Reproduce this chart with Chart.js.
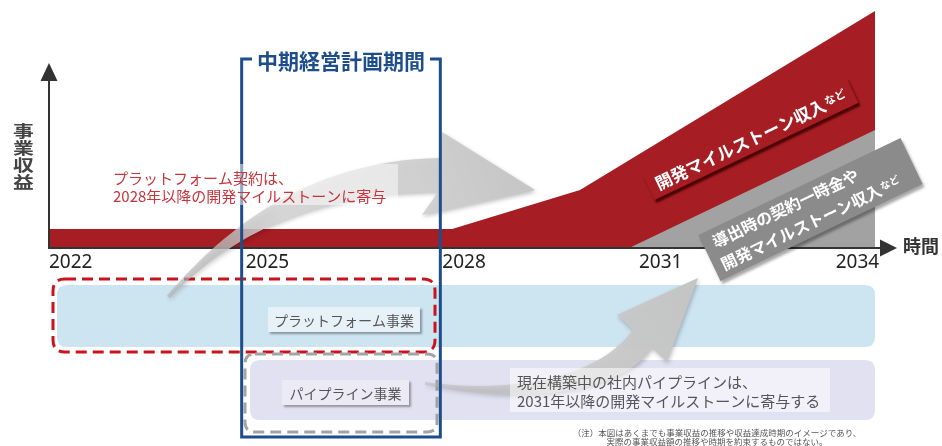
<!DOCTYPE html>
<html lang="ja">
<head>
<meta charset="UTF-8">
<title>事業収益の推移イメージ</title>
<script src="https://cdn.jsdelivr.net/npm/chart.js"></script>
<style>
  html, body { margin: 0; padding: 0; background: #fff; }
  #wrap { width: 942px; height: 446px; }
</style>
</head>
<body>
<div id="wrap"><canvas id="chart" width="942" height="446"></canvas></div>
<script>
  // data (values are an index, top of plot = 100)
  const tickYears = [2022, 2025, 2028, 2031, 2034];
  const redYears = [2022, 2028.15, 2030.1, 2034.6];
  const redValues = [8, 8, 24.5, 100];
  const greyYears = [2030.85, 2034.6];
  const greyValues = [0, 49.8];
  const planYears = [2025, 2028];

  const JP = '"Noto Sans CJK JP", "Noto Sans", sans-serif';
  const RED = '#a61d23';
  const BLUE = '#1d4e8b';

  function toPoints(xs, ys) {
    return xs.map((x, i) => ({ x: x, y: ys[i] }));
  }

  function rrect(ctx, x, y, w, h, r) {
    ctx.beginPath();
    ctx.moveTo(x + r, y);
    ctx.lineTo(x + w - r, y);
    ctx.quadraticCurveTo(x + w, y, x + w, y + r);
    ctx.lineTo(x + w, y + h - r);
    ctx.quadraticCurveTo(x + w, y + h, x + w - r, y + h);
    ctx.lineTo(x + r, y + h);
    ctx.quadraticCurveTo(x, y + h, x, y + h - r);
    ctx.lineTo(x, y + r);
    ctx.quadraticCurveTo(x, y, x + r, y);
    ctx.closePath();
  }

  function labelBox(ctx, x, y, w, h, fill, text) {
    ctx.save();
    ctx.shadowColor = 'rgba(0,0,0,0.35)';
    ctx.shadowOffsetX = 2;
    ctx.shadowOffsetY = 2;
    ctx.shadowBlur = 2;
    ctx.fillStyle = fill;
    ctx.fillRect(x, y, w, h);
    ctx.restore();
    ctx.fillStyle = '#555';
    ctx.font = '14px ' + JP;
    ctx.textAlign = 'center';
    ctx.textBaseline = 'middle';
    ctx.fillText(text, x + w / 2, y + h / 2 + 1);
  }

  function bigArrow(ctx, pts, grad) {
    ctx.save();
    ctx.beginPath();
    ctx.moveTo(pts[0][0], pts[0][1]);
    ctx.bezierCurveTo(pts[1][0], pts[1][1], pts[2][0], pts[2][1], pts[3][0], pts[3][1]);
    for (let i = 4; i < 8; i++) ctx.lineTo(pts[i][0], pts[i][1]);
    ctx.bezierCurveTo(pts[8][0], pts[8][1], pts[9][0], pts[9][1], pts[10][0], pts[10][1]);
    ctx.closePath();
    ctx.shadowColor = 'rgba(0,0,0,0.25)';
    ctx.shadowBlur = 4;
    ctx.shadowOffsetX = 1;
    ctx.shadowOffsetY = 2;
    ctx.fillStyle = grad;
    ctx.fill();
    ctx.restore();
  }

  const decor = {
    id: 'decor',
    afterDatasetsDraw(chart) {
      const ctx = chart.ctx;
      const x = chart.scales.x;
      const area = chart.chartArea;
      const y0 = area.bottom;

      // business bands below the axis
      ctx.fillStyle = '#cde4f1';
      rrect(ctx, 57, 285, 818, 62, 10); ctx.fill();
      ctx.fillStyle = '#e2e1f1';
      rrect(ctx, 250, 360, 625, 60, 10); ctx.fill();

      ctx.save();
      ctx.lineWidth = 3;
      ctx.setLineDash([11, 6]);
      ctx.strokeStyle = '#c8151d';
      rrect(ctx, 53, 279, 382, 73, 12); ctx.stroke();
      ctx.strokeStyle = '#a3a3a3';
      rrect(ctx, 245, 354, 192, 78, 10); ctx.stroke();
      ctx.restore();

      labelBox(ctx, 268, 307, 152, 25, '#e7f1f8', 'プラットフォーム事業');
      labelBox(ctx, 282, 380, 127, 25, '#ecebf5', 'パイプライン事業');

      // axes with arrow heads
      ctx.save();
      ctx.strokeStyle = '#333';
      ctx.fillStyle = '#333';
      ctx.lineWidth = 2;
      ctx.beginPath();
      ctx.moveTo(area.left, 80);
      ctx.lineTo(area.left, y0);
      ctx.lineTo(881, y0);
      ctx.stroke();
      ctx.beginPath();
      ctx.moveTo(area.left - 8.5, 81); ctx.lineTo(area.left, 63); ctx.lineTo(area.left + 8.5, 81);
      ctx.closePath(); ctx.fill();
      ctx.beginPath();
      ctx.moveTo(880, y0 - 8.5); ctx.lineTo(897, y0); ctx.lineTo(880, y0 + 8.5);
      ctx.closePath(); ctx.fill();
      ctx.restore();

      // rotated label on the red area
      const rad = Math.PI / 180;
      ctx.save();
      ctx.translate(750, 140);
      ctx.rotate(-25.5 * rad);
      ctx.save();
      ctx.shadowColor = 'rgba(60,0,0,0.85)';
      ctx.shadowOffsetX = 2;
      ctx.shadowOffsetY = 3;
      ctx.shadowBlur = 2;
      ctx.fillStyle = RED;
      ctx.fillRect(-112, -15, 226, 28);
      ctx.restore();
      ctx.fillStyle = '#fff';
      ctx.textBaseline = 'middle';
      ctx.textAlign = 'left';
      ctx.font = 'bold 17px ' + JP;
      const t1 = '開発マイルストーン収入';
      ctx.fillText(t1, -104, 0);
      const w1 = ctx.measureText(t1).width;
      ctx.font = 'bold 11px ' + JP;
      ctx.fillText('など', -104 + w1 + 1, -2);
      ctx.restore();

      // rotated grey box
      ctx.save();
      ctx.translate(810.5, 209.5);
      ctx.rotate(-25.6 * rad);
      ctx.save();
      ctx.shadowColor = 'rgba(0,0,0,0.35)';
      ctx.shadowOffsetX = 2;
      ctx.shadowOffsetY = 3;
      ctx.shadowBlur = 3;
      ctx.fillStyle = '#8b8b8b';
      ctx.fillRect(-112, -25.5, 224, 51);
      ctx.restore();
      ctx.fillStyle = '#fff';
      ctx.textBaseline = 'middle';
      ctx.textAlign = 'left';
      ctx.font = 'bold 16px ' + JP;
      ctx.fillText('導出時の契約一時金や', -102, -12);
      const t2 = '開発マイルストーン収入';
      ctx.fillText(t2, -104, 12);
      const w2 = ctx.measureText(t2).width;
      ctx.font = 'bold 10px ' + JP;
      ctx.fillText('など', -104 + w2 + 1, 10);
      ctx.restore();

      // curved arrows
      const g1 = ctx.createLinearGradient(167, 296, 535, 160);
      g1.addColorStop(0, 'rgba(175,175,175,0.6)');
      g1.addColorStop(0.35, 'rgba(215,215,215,0.9)');
      g1.addColorStop(0.7, 'rgba(208,208,208,0.95)');
      g1.addColorStop(1, 'rgba(196,196,196,1)');
      bigArrow(ctx, [[167, 296], [215, 240], [300, 160], [440, 158],
        [442, 132], [535, 190], [422, 215], [438, 192],
        [330, 192], [240, 225], [170, 298]], g1);

      const g2 = ctx.createLinearGradient(425, 385, 698, 278);
      g2.addColorStop(0, 'rgba(180,180,180,0.45)');
      g2.addColorStop(0.4, 'rgba(205,205,205,0.9)');
      g2.addColorStop(1, 'rgba(196,196,196,1)');
      bigArrow(ctx, [[425, 382], [520, 395], [600, 375], [633, 330],
        [617, 315], [698, 278], [667, 362], [652, 348],
        [620, 395], [520, 405], [425, 385]], g2);

      // mid-term plan period box
      const bl = x.getPixelForValue(planYears[0]) - 4;
      const br = x.getPixelForValue(planYears[1]) - 2;
      ctx.save();
      ctx.strokeStyle = BLUE;
      ctx.lineWidth = 3;
      ctx.beginPath();
      ctx.moveTo(252, 59); ctx.lineTo(bl, 59); ctx.lineTo(bl, 437);
      ctx.lineTo(br, 437); ctx.lineTo(br, 59); ctx.lineTo(430, 59);
      ctx.stroke();
      ctx.fillStyle = BLUE;
      ctx.font = 'bold 21px ' + JP;
      ctx.textAlign = 'center';
      ctx.textBaseline = 'middle';
      ctx.fillText('中期経営計画期間', (bl + br) / 2, 61);
      ctx.restore();

      // callout texts
      ctx.fillStyle = 'rgba(255,255,255,0.5)';
      ctx.fillRect(108, 164, 290, 41);
      ctx.fillStyle = 'rgba(255,255,255,0.55)';
      ctx.fillRect(510, 368, 320, 44);

      ctx.textAlign = 'left';
      ctx.textBaseline = 'middle';
      ctx.fillStyle = '#c9343c';
      ctx.font = '15px ' + JP;
      ctx.fillText('プラットフォーム契約は、', 113, 178);
      ctx.fillText('2028年以降の開発マイルストーンに寄与', 113, 196);

      ctx.fillStyle = '#555';
      ctx.font = '15px ' + JP;
      ctx.fillText('現在構築中の社内パイプラインは、', 517, 382);
      ctx.fillText('2031年以降の開発マイルストーンに寄与する', 517, 401);

      // axis titles
      ctx.save();
      ctx.fillStyle = '#444';
      ctx.font = 'bold 16px ' + JP;
      ctx.textAlign = 'center';
      ctx.translate(23.5, 0);
      ctx.scale(1.3, 1);
      ['事', '業', '収', '益'].forEach((ch, i) => ctx.fillText(ch, 0, 131 + i * 17));
      ctx.restore();
      ctx.fillStyle = '#333';
      ctx.font = 'bold 18px ' + JP;
      ctx.textAlign = 'left';
      ctx.fillText('時間', 903, 246);

      // footnote
      ctx.fillStyle = '#555';
      ctx.font = '8.5px ' + JP;
      ctx.textAlign = 'center';
      ctx.fillText('（注）本図はあくまでも事業収益の推移や収益達成時期のイメージであり、', 717, 433);
      ctx.fillText('実際の事業収益額の推移や時期を約束するものではない。', 717, 442);
    }
  };

  new Chart(document.getElementById('chart'), {
    type: 'line',
    data: {
      datasets: [
        {
          label: '導出時の契約一時金や開発マイルストーン収入など',
          data: toPoints(greyYears, greyValues),
          backgroundColor: '#a2a2a2',
          borderWidth: 0,
          pointRadius: 0,
          fill: 'origin',
          tension: 0
        },
        {
          label: '開発マイルストーン収入など',
          data: toPoints(redYears, redValues),
          backgroundColor: RED,
          borderWidth: 0,
          pointRadius: 0,
          fill: 'origin',
          tension: 0
        }
      ]
    },
    options: {
      responsive: false,
      animation: false,
      devicePixelRatio: 1,
      layout: { padding: { left: 49, right: 67, top: 11, bottom: 168 } },
      plugins: { legend: { display: false }, tooltip: { enabled: false } },
      scales: {
        x: {
          type: 'linear',
          min: 2022,
          max: 2034.6,
          grid: { display: false, drawTicks: false },
          border: { display: false },
          afterBuildTicks: axis => { axis.ticks = tickYears.map(v => ({ value: v })); },
          afterFit: axis => { axis.height = 30; },
          ticks: {
            autoSkip: false,
            maxRotation: 0,
            align: 'start',
            padding: 3,
            color: '#222',
            font: { family: '"Noto Sans", sans-serif', size: 19 },
            callback: v => String(v)
          }
        },
        y: { display: false, min: 0, max: 100 }
      }
    },
    plugins: [decor]
  });
</script>
</body>
</html>
